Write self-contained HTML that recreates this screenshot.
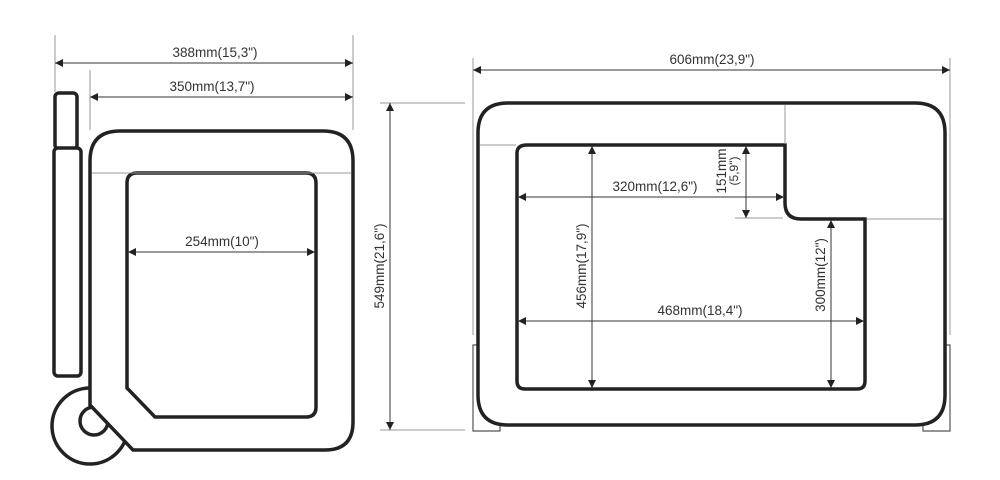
<!DOCTYPE html>
<html><head><meta charset="utf-8"><style>
html,body{margin:0;padding:0;background:#fff;}
svg{display:block;}
text{font-family:"Liberation Sans",sans-serif;font-size:13.5px;fill:#333;}
</style></head><body>
<svg width="1000" height="480" viewBox="0 0 1000 480" xmlns="http://www.w3.org/2000/svg">
<defs>
<marker id="a" viewBox="0 0 10 10" refX="10" refY="5" markerWidth="14" markerHeight="8" markerUnits="userSpaceOnUse" orient="auto-start-reverse"><path d="M0,0 L10,5 L0,10 z" fill="#222"/></marker>
</defs>
<!-- feet right view -->
<g stroke="#555" stroke-width="1.2" fill="#fff">
<path d="M473,345 L480,345 L480,410 L500,425 L500,431 L473,431 Z"/>
<path d="M950,345 L943,345 L943,410 L923,425 L923,431 L950,431 Z"/>
</g>
<!-- shapes -->
<g stroke="#222" stroke-width="3.5" fill="#fff">
<circle cx="90" cy="426" r="38"/>
<circle cx="94" cy="421" r="14"/>
<rect x="55" y="93" width="22" height="56" rx="4"/>
<rect x="54" y="148" width="27" height="228" rx="4"/>
<path d="M120,131 L323,131 Q353,131 353,161 L353,422 Q353,450 325,450 L133,450 L90,405 L90,161 Q90,131 120,131 Z"/>
<path d="M137,173 L306,173 Q316,173 316,183 L316,407 Q316,417 306,417 L155,417 L127,388 L127,183 Q127,173 137,173 Z"/>
<path d="M508,103 L915,103 Q945,103 945,133 L945,395 Q945,425 915,425 L508,425 Q478,425 478,395 L478,133 Q478,103 508,103 Z"/>
<path d="M527,145 L785,145 L785,203 Q785,219 801,219 L865,219 L865,381 Q865,389 857,389 L525,389 Q517,389 517,381 L517,153 Q517,145 527,145 Z"/>
</g>
<g stroke="#999" stroke-width="1" fill="none">
<line x1="55" y1="35" x2="55" y2="92"/>
<line x1="353" y1="35" x2="353" y2="130"/>
<line x1="90" y1="70" x2="90" y2="130"/>
<line x1="92" y1="173" x2="351" y2="173"/>
<line x1="380" y1="103" x2="465" y2="103"/>
<line x1="380" y1="430" x2="465" y2="430"/>
<line x1="473" y1="58" x2="473" y2="335"/>
<line x1="950" y1="58" x2="950" y2="335"/>
<line x1="480" y1="145" x2="516" y2="145"/>
<line x1="785" y1="105" x2="785" y2="144"/>
<line x1="867" y1="219" x2="943" y2="219"/>
<line x1="735" y1="218" x2="783" y2="218"/>
</g>
<g stroke="#333" stroke-width="1" fill="none">
<line x1="55" y1="63" x2="353" y2="63" marker-start="url(#a)" marker-end="url(#a)"/>
<line x1="90" y1="97" x2="353" y2="97" marker-start="url(#a)" marker-end="url(#a)"/>
<line x1="128" y1="252" x2="315" y2="252" marker-start="url(#a)" marker-end="url(#a)"/>
<line x1="390" y1="103" x2="390" y2="430" marker-start="url(#a)" marker-end="url(#a)"/>
<line x1="473" y1="70" x2="950" y2="70" marker-start="url(#a)" marker-end="url(#a)"/>
<line x1="518" y1="197" x2="784" y2="197" marker-start="url(#a)" marker-end="url(#a)"/>
<line x1="746" y1="146" x2="746" y2="218" marker-start="url(#a)" marker-end="url(#a)"/>
<line x1="592" y1="146" x2="592" y2="388" marker-start="url(#a)" marker-end="url(#a)"/>
<line x1="831" y1="220" x2="831" y2="388" marker-start="url(#a)" marker-end="url(#a)"/>
<line x1="518" y1="321" x2="864" y2="321" marker-start="url(#a)" marker-end="url(#a)"/>
</g>
<text x="215" y="57" text-anchor="middle">388mm(15,3")</text>
<text x="212" y="91" text-anchor="middle">350mm(13,7")</text>
<text x="222" y="246" text-anchor="middle">254mm(10")</text>
<text x="712" y="64" text-anchor="middle">606mm(23,9")</text>
<text x="655" y="191" text-anchor="middle">320mm(12,6")</text>
<text x="700" y="315" text-anchor="middle">468mm(18,4")</text>
<text transform="translate(384,266) rotate(-90)" text-anchor="middle">549mm(21,6")</text>
<text transform="translate(586,266) rotate(-90)" text-anchor="middle">456mm(17,9")</text>
<text transform="translate(825,275) rotate(-90)" text-anchor="middle">300mm(12")</text>
<text transform="translate(726,171) rotate(-90)" text-anchor="middle">151mm</text>
<text transform="translate(738,171) rotate(-90)" text-anchor="middle" style="font-size:12px">(5,9")</text>
</svg>
</body></html>
